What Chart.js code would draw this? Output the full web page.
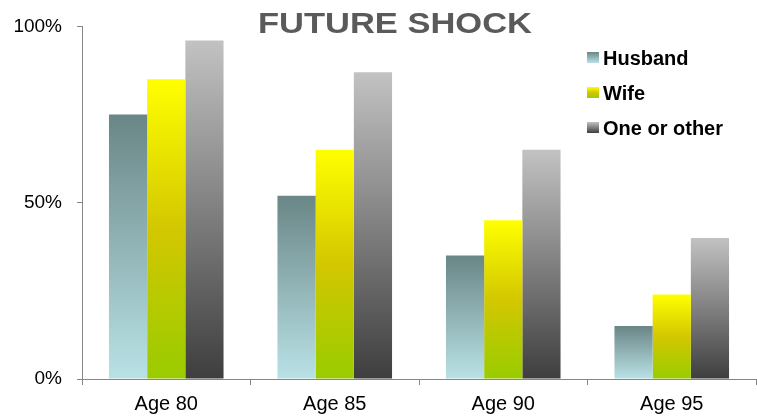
<!DOCTYPE html>
<html>
<head>
<meta charset="utf-8">
<script src="https://cdn.jsdelivr.net/npm/chart.js@4/dist/chart.umd.min.js"></script>
<style>
  html, body { margin: 0; padding: 0; background: #ffffff; }
  canvas { display: block; }
</style>
</head>
<body>
<canvas id="shockChart" width="757" height="416"></canvas>
<script>
// Data
const categories = ['Age 80', 'Age 85', 'Age 90', 'Age 95'];
const husband = [75, 52, 35, 15];
const wife = [85, 65, 45, 24];
const oneOrOther = [96, 87, 65, 40];
const yTicks = [0, 50, 100];

// Gradient stops for each series (top of bar -> bottom of bar)
const husbandStops = [[0, '#6a8686'], [1, '#b9e2e6']];
const wifeStops = [[0, '#ffff00'], [0.5, '#d3c700'], [1, '#99cc00']];
const otherStops = [[0, '#c2c2c2'], [1, '#3e3e3e']];

const FONT = '"Liberation Sans", Arial, sans-serif';

function makeGradient(ctx2d, top, bottom, stops) {
    const g = ctx2d.createLinearGradient(0, top, 0, bottom);
    stops.forEach(s => g.addColorStop(s[0], s[1]));
    return g;
}

// Each bar gets its own vertical gradient, like the original
function barFill(stops) {
    return function(context) {
        const chart = context.chart;
        if (!chart.chartArea || context.raw === undefined) return stops[0][1];
        const y = chart.scales.y;
        const top = y.getPixelForValue(context.raw);
        const bottom = y.getPixelForValue(0);
        return makeGradient(chart.ctx, top, bottom, stops);
    };
}

// Title drawn by hand; the original's letters are a bit wide, so stretch it
const titlePlugin = {
    id: 'futureTitle',
    afterDraw(chart) {
        const c = chart.ctx;
        const text = 'FUTURE SHOCK';
        c.save();
        c.font = 'bold 29px ' + FONT;
        c.fillStyle = '#5a5a5a';
        c.textBaseline = 'alphabetic';
        const w = c.measureText(text).width;
        c.translate(258, 33);
        c.scale(274 / w, 1);
        c.fillText(text, 0, 0);
        c.restore();
    }
};

// Legend on the right, squares with the same gradients
const legendPlugin = {
    id: 'sideLegend',
    afterDraw(chart) {
        const c = chart.ctx;
        const rows = [
            { label: 'Husband', stops: husbandStops, y: 65 },
            { label: 'Wife', stops: wifeStops, y: 100 },
            { label: 'One or other', stops: otherStops, y: 135 }
        ];
        c.save();
        c.font = 'bold 20px ' + FONT;
        c.textBaseline = 'alphabetic';
        rows.forEach(r => {
            c.fillStyle = makeGradient(c, r.y - 13, r.y - 2, r.stops);
            c.fillRect(587, r.y - 13, 12, 11);
            c.fillStyle = '#000000';
            c.fillText(r.label, 603, r.y);
        });
        c.restore();
    }
};

const ctx = document.getElementById('shockChart').getContext('2d');
new Chart(ctx, {
    type: 'bar',
    data: {
        labels: categories,
        datasets: [
            { label: 'Husband', data: husband, backgroundColor: barFill(husbandStops) },
            { label: 'Wife', data: wife, backgroundColor: barFill(wifeStops) },
            { label: 'One or other', data: oneOrOther, backgroundColor: barFill(otherStops) }
        ]
    },
    options: {
        responsive: false,
        animation: false,
        layout: { padding: { top: 24, right: 1, left: 0, bottom: 0 } },
        datasets: {
            bar: { categoryPercentage: 0.68, barPercentage: 1.0, borderWidth: 0 }
        },
        plugins: {
            legend: { display: false },
            title: { display: false },
            tooltip: { enabled: false }
        },
        scales: {
            x: {
                grid: {
                    offset: true,
                    drawOnChartArea: false,
                    drawTicks: true,
                    tickLength: 6,
                    color: '#868686'
                },
                border: { color: '#868686', width: 1 },
                ticks: {
                    color: '#000000',
                    padding: 7,
                    font: { family: FONT, size: 20 }
                },
                afterFit(axis) { axis.height = 37; }
            },
            y: {
                min: 0,
                max: 100,
                afterBuildTicks(axis) {
                    axis.ticks = yTicks.map(v => ({ value: v }));
                },
                grid: {
                    drawOnChartArea: false,
                    drawTicks: true,
                    tickLength: 5,
                    color: '#868686'
                },
                border: { color: '#868686', width: 1 },
                ticks: {
                    color: '#000000',
                    padding: 15,
                    callback: v => v + '%',
                    font: { family: FONT, size: 19 }
                },
                afterFit(axis) { axis.width = 82; }
            }
        }
    },
    plugins: [titlePlugin, legendPlugin]
});
</script>
</body>
</html>
